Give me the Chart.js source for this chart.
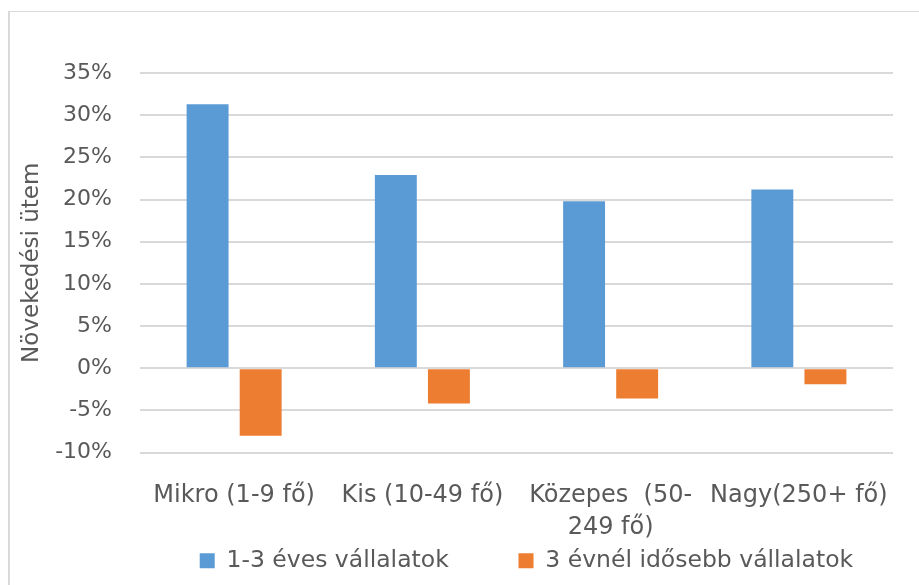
<!DOCTYPE html>
<html lang="hu">
<head>
<meta charset="utf-8">
<script src="https://cdn.jsdelivr.net/npm/chart.js@4/dist/chart.umd.min.js"></script>
<style>
    html, body { margin: 0; padding: 0; background: #fff; overflow: hidden; }
    #wrap { position: relative; width: 919px; height: 585px; }
    #frame {
        position: absolute; left: 8px; top: 11px; right: -10px; bottom: -10px;
        border-left: 2px solid #d9d9d9; border-top: 1px solid #d9d9d9;
    }
    canvas { position: absolute; left: 0; top: 0; }
</style>
</head>
<body>
<div id="wrap">
    <div id="frame"></div>
    <canvas id="growthChart" width="919" height="585"></canvas>
</div>
<script>
// Adatok
const kategoriak = ["Mikro (1-9 fő)", "Kis (10-49 fő)", ["Közepes  (50-", "249 fő)"], "Nagy(250+ fő)"];
const sorozatNevek = ["1-3 éves vállalatok", "3 évnél idősebb vállalatok"];
const fiatalCegek = [31.3, 22.9, 19.8, 21.2];
const idosebbCegek = [-8.0, -4.2, -3.6, -1.9];
const tengelyMin = -10;
const tengelyMax = 35;
const tengelyLepes = 5;
const tengelyCim = "Növekedési ütem";

const szurke = '#595959';
const betu = 'DejaVu Sans';

const ctx = document.getElementById('growthChart').getContext('2d');
new Chart(ctx, {
    type: 'bar',
    data: {
        labels: kategoriak,
        datasets: [{
            label: sorozatNevek[0],
            data: fiatalCegek,
            backgroundColor: '#5B9BD5',
            borderWidth: 0,
            categoryPercentage: 0.564,
            barPercentage: 0.79
        }, {
            label: sorozatNevek[1],
            data: idosebbCegek,
            backgroundColor: '#ED7D31',
            borderWidth: 0,
            categoryPercentage: 0.564,
            barPercentage: 0.79
        }]
    },
    options: {
        responsive: false,
        animation: false,
        layout: { padding: { left: 10, right: 26, top: 73, bottom: 2.5 } },
        plugins: {
            tooltip: { enabled: false },
            legend: {
                position: 'bottom',
                align: 'end',
                labels: {
                    color: szurke,
                    font: { family: betu, size: 23.5 },
                    boxWidth: 15,
                    boxHeight: 15,
                    padding: 10,
                    // Excel-szerű elrendezés: nagyobb köz a tételek között
                    generateLabels: (chart) => {
                        const items = Chart.defaults.plugins.legend.labels.generateLabels(chart);
                        items[0].text += '\u00a0'.repeat(8);
                        items[1].text += '\u00a0'.repeat(4);
                        return items;
                    }
                }
            }
        },
        scales: {
            x: {
                grid: { display: false },
                border: { display: false },
                ticks: {
                    color: szurke,
                    font: { family: betu, size: 24, lineHeight: 1.333 },
                    padding: 19,
                    maxRotation: 0,
                    autoSkip: false
                },
                afterFit: (scale) => { scale.height = 86.5; }
            },
            y: {
                min: tengelyMin,
                max: tengelyMax,
                grid: { color: '#d9d9d9', lineWidth: 2, drawTicks: false },
                border: { display: false },
                ticks: {
                    stepSize: tengelyLepes,
                    color: szurke,
                    font: { family: betu, size: 22 },
                    padding: 28,
                    callback: (v) => v + '%'
                },
                title: {
                    display: true,
                    text: tengelyCim,
                    color: szurke,
                    font: { family: betu, size: 23 },
                    padding: { top: 8, bottom: 0 }
                },
                afterFit: (scale) => { scale.width = 130; }
            }
        }
    }
});
</script>
</body>
</html>
